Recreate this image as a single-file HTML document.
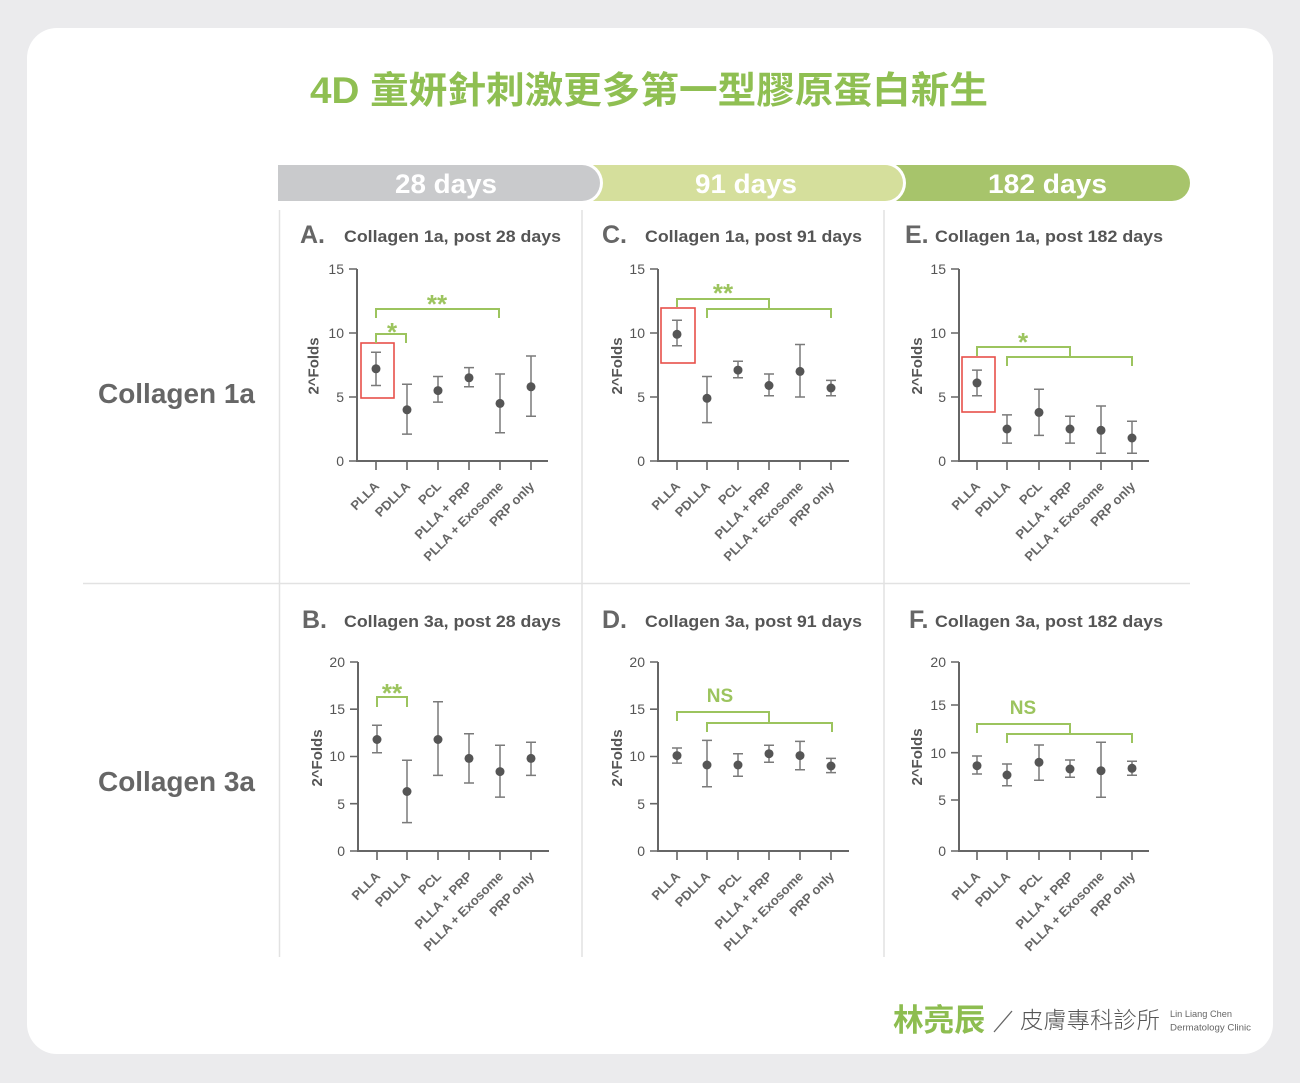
<!DOCTYPE html>
<html>
<head>
<meta charset="utf-8">
<style>
  html,body{margin:0;padding:0;background:#ebebed;}
  svg{display:block;}
  .lat{font-family:"Liberation Sans","Noto Sans CJK TC",sans-serif;}
  .axis{stroke:#666;stroke-width:2;fill:none;}
  .tick{stroke:#666;stroke-width:1.6;fill:none;}
  .tl{font-family:"Liberation Sans",sans-serif;font-size:14px;fill:#555;text-anchor:end;}
  .xl{font-family:"Liberation Sans",sans-serif;font-size:13px;font-weight:bold;fill:#666;text-anchor:end;}
  .yl{font-family:"Liberation Sans",sans-serif;font-size:15px;font-weight:bold;fill:#555;text-anchor:middle;}
  .err{stroke:#7a7a7a;stroke-width:1.5;fill:none;}
  .dot{fill:#555;}
  .red{stroke:#e8504a;stroke-width:1.6;fill:none;}
  .br{stroke:#9cc45e;stroke-width:2;fill:none;}
  .star{font-family:"Liberation Sans",sans-serif;font-size:26px;font-weight:bold;fill:#9cc45e;text-anchor:middle;}
  .ns{font-family:"Liberation Sans",sans-serif;font-size:19px;font-weight:bold;fill:#9cc45e;text-anchor:middle;}
  .let{font-family:"Liberation Sans",sans-serif;font-size:25px;font-weight:bold;fill:#666;}
  .ttl{font-family:"Liberation Sans",sans-serif;font-size:17px;font-weight:bold;fill:#555;}
  .div{stroke:#e2e2e2;stroke-width:1.5;}
</style>
</head>
<body>
<svg width="1300" height="1083" viewBox="0 0 1300 1083" xmlns="http://www.w3.org/2000/svg">
  <rect x="0" y="0" width="1300" height="1083" fill="#ebebed"/>
  <rect x="27" y="28" width="1246" height="1026" rx="30" ry="30" fill="#ffffff"/>

  <!-- Title -->
  <text x="310" y="103" textLength="678" lengthAdjust="spacingAndGlyphs" style="font-family:'Liberation Sans','Noto Sans CJK TC',sans-serif;font-size:37px;font-weight:bold;fill:#8fbf52;">4D 童妍針刺激更多第一型膠原蛋白新生</text>

  <!-- Header bars -->
  <path d="M890,165 H1172 A18,18 0 0 1 1172,201 H890 Z" fill="#a7c46b"/>
  <path d="M590,162 H885 A21,21 0 0 1 885,204 H590 Z" fill="#ffffff"/>
  <path d="M590,165 H885 A18,18 0 0 1 885,201 H590 Z" fill="#d5df9c"/>
  <path d="M278,162 H582 A21,21 0 0 1 582,204 H278 Z" fill="#ffffff"/>
  <path d="M278,165 H582 A18,18 0 0 1 582,201 H278 Z" fill="#c9cacc"/>
  <text x="395" y="193" textLength="102" lengthAdjust="spacingAndGlyphs" style="font-family:'Liberation Sans',sans-serif;font-size:27px;font-weight:bold;fill:#fff;">28 days</text>
  <text x="695" y="193" textLength="102" lengthAdjust="spacingAndGlyphs" style="font-family:'Liberation Sans',sans-serif;font-size:27px;font-weight:bold;fill:#fff;">91 days</text>
  <text x="988" y="193" textLength="119" lengthAdjust="spacingAndGlyphs" style="font-family:'Liberation Sans',sans-serif;font-size:27px;font-weight:bold;fill:#fff;">182 days</text>

  <!-- Dividers -->
  <line class="div" x1="279.5" y1="210" x2="279.5" y2="957"/>
  <line class="div" x1="582" y1="210" x2="582" y2="957"/>
  <line class="div" x1="884" y1="210" x2="884" y2="957"/>
  <line class="div" x1="83" y1="583.5" x2="1190" y2="583.5"/>

  <!-- Row labels -->
  <text x="98" y="403" textLength="157" lengthAdjust="spacingAndGlyphs" style="font-family:'Liberation Sans',sans-serif;font-size:28px;font-weight:bold;fill:#666;">Collagen 1a</text>
  <text x="98" y="791" textLength="157" lengthAdjust="spacingAndGlyphs" style="font-family:'Liberation Sans',sans-serif;font-size:28px;font-weight:bold;fill:#666;">Collagen 3a</text>

  <!-- Panel titles -->
  <text class="let" x="300" y="243">A.</text>
  <text class="ttl" x="344" y="242" textLength="217" lengthAdjust="spacingAndGlyphs">Collagen 1a, post 28 days</text>
  <text class="let" x="602" y="243">C.</text>
  <text class="ttl" x="645" y="242" textLength="217" lengthAdjust="spacingAndGlyphs">Collagen 1a, post 91 days</text>
  <text class="let" x="905" y="243">E.</text>
  <text class="ttl" x="935" y="242" textLength="228" lengthAdjust="spacingAndGlyphs">Collagen 1a, post 182 days</text>
  <text class="let" x="302" y="628">B.</text>
  <text class="ttl" x="344" y="627" textLength="217" lengthAdjust="spacingAndGlyphs">Collagen 3a, post 28 days</text>
  <text class="let" x="602" y="628">D.</text>
  <text class="ttl" x="645" y="627" textLength="217" lengthAdjust="spacingAndGlyphs">Collagen 3a, post 91 days</text>
  <text class="let" x="909" y="628">F.</text>
  <text class="ttl" x="935" y="627" textLength="228" lengthAdjust="spacingAndGlyphs">Collagen 3a, post 182 days</text>

  <!-- ================= Panel A ================= -->
  <g>
    <path class="axis" d="M357,269 V462 M356,461 H548"/>
    <path class="tick" d="M349,269 H357 M349,397 H357 M349,333 H357 M349,461 H357"/>
    <path class="tick" d="M376,461 V470 M407,461 V470 M438,461 V470 M469,461 V470 M500,461 V470 M531,461 V470"/>
    <text class="tl" x="344" y="274">15</text>
    <text class="tl" x="344" y="338">10</text>
    <text class="tl" x="344" y="402">5</text>
    <text class="tl" x="344" y="466">0</text>
    <text class="yl" transform="translate(318.5,366) rotate(-90)">2^Folds</text>
    <text class="xl" transform="translate(380,487) rotate(-45)">PLLA</text>
    <text class="xl" transform="translate(411,487) rotate(-45)">PDLLA</text>
    <text class="xl" transform="translate(442,487) rotate(-45)">PCL</text>
    <text class="xl" transform="translate(473,487) rotate(-45)">PLLA + PRP</text>
    <text class="xl" transform="translate(504,487) rotate(-45)">PLLA + Exosome</text>
    <text class="xl" transform="translate(535,487) rotate(-45)">PRP only</text>
    <path class="err" d="M376,352.2 V385.5 M371,352.2 H381 M371,385.5 H381"/>
    <path class="err" d="M407,384.2 V434.1 M402,384.2 H412 M402,434.1 H412"/>
    <path class="err" d="M438,376.5 V402.1 M433,376.5 H443 M433,402.1 H443"/>
    <path class="err" d="M469,367.6 V386.8 M464,367.6 H474 M464,386.8 H474"/>
    <path class="err" d="M500,374 V432.8 M495,374 H505 M495,432.8 H505"/>
    <path class="err" d="M531,356 V416.2 M526,356 H536 M526,416.2 H536"/>
    <circle class="dot" cx="376" cy="368.8" r="4.5"/>
    <circle class="dot" cx="407" cy="409.8" r="4.5"/>
    <circle class="dot" cx="438" cy="390.6" r="4.5"/>
    <circle class="dot" cx="469" cy="377.8" r="4.5"/>
    <circle class="dot" cx="500" cy="403.4" r="4.5"/>
    <circle class="dot" cx="531" cy="386.8" r="4.5"/>
    <rect class="red" x="361" y="343" width="33" height="55"/>
    <path class="br" d="M376,343 V334 H406 V343"/>
    <path class="br" d="M376,318 V309 H499 V318"/>
    <text class="star" x="392" y="341">*</text>
    <text class="star" x="437" y="313">**</text>
  </g>

  <!-- ================= Panel C ================= -->
  <g>
    <path class="axis" d="M658,269 V462 M657,461 H849"/>
    <path class="tick" d="M650,269 H658 M650,397 H658 M650,333 H658 M650,461 H658"/>
    <path class="tick" d="M677,461 V470 M707,461 V470 M738,461 V470 M769,461 V470 M800,461 V470 M831,461 V470"/>
    <text class="tl" x="645" y="274">15</text>
    <text class="tl" x="645" y="338">10</text>
    <text class="tl" x="645" y="402">5</text>
    <text class="tl" x="645" y="466">0</text>
    <text class="yl" transform="translate(622,366) rotate(-90)">2^Folds</text>
    <text class="xl" transform="translate(681,487) rotate(-45)">PLLA</text>
    <text class="xl" transform="translate(711,487) rotate(-45)">PDLLA</text>
    <text class="xl" transform="translate(742,487) rotate(-45)">PCL</text>
    <text class="xl" transform="translate(773,487) rotate(-45)">PLLA + PRP</text>
    <text class="xl" transform="translate(804,487) rotate(-45)">PLLA + Exosome</text>
    <text class="xl" transform="translate(835,487) rotate(-45)">PRP only</text>
    <path class="err" d="M677,320.2 V345.8 M672,320.2 H682 M672,345.8 H682"/>
    <path class="err" d="M707,376.5 V422.6 M702,376.5 H712 M702,422.6 H712"/>
    <path class="err" d="M738,361.2 V377.8 M733,361.2 H743 M733,377.8 H743"/>
    <path class="err" d="M769,374 V395.7 M764,374 H774 M764,395.7 H774"/>
    <path class="err" d="M800,344.5 V397 M795,344.5 H805 M795,397 H805"/>
    <path class="err" d="M831,380.4 V395.7 M826,380.4 H836 M826,395.7 H836"/>
    <circle class="dot" cx="677" cy="334.3" r="4.5"/>
    <circle class="dot" cx="707" cy="398.3" r="4.5"/>
    <circle class="dot" cx="738" cy="370.1" r="4.5"/>
    <circle class="dot" cx="769" cy="385.5" r="4.5"/>
    <circle class="dot" cx="800" cy="371.4" r="4.5"/>
    <circle class="dot" cx="831" cy="388" r="4.5"/>
    <rect class="red" x="661" y="308" width="34" height="55"/>
    <path class="br" d="M677,307 V299 H769 V309"/>
    <path class="br" d="M707,318 V309 H831 V318"/>
    <text class="star" x="723" y="302">**</text>
  </g>

  <!-- ================= Panel E ================= -->
  <g>
    <path class="axis" d="M959,269 V462 M958,461 H1149"/>
    <path class="tick" d="M951,269 H959 M951,397 H959 M951,333 H959 M951,461 H959"/>
    <path class="tick" d="M977,461 V470 M1007,461 V470 M1039,461 V470 M1070,461 V470 M1101,461 V470 M1132,461 V470"/>
    <text class="tl" x="946" y="274">15</text>
    <text class="tl" x="946" y="338">10</text>
    <text class="tl" x="946" y="402">5</text>
    <text class="tl" x="946" y="466">0</text>
    <text class="yl" transform="translate(922,366) rotate(-90)">2^Folds</text>
    <text class="xl" transform="translate(981,487) rotate(-45)">PLLA</text>
    <text class="xl" transform="translate(1011,487) rotate(-45)">PDLLA</text>
    <text class="xl" transform="translate(1043,487) rotate(-45)">PCL</text>
    <text class="xl" transform="translate(1074,487) rotate(-45)">PLLA + PRP</text>
    <text class="xl" transform="translate(1105,487) rotate(-45)">PLLA + Exosome</text>
    <text class="xl" transform="translate(1136,487) rotate(-45)">PRP only</text>
    <path class="err" d="M977,370.1 V395.7 M972,370.1 H982 M972,395.7 H982"/>
    <path class="err" d="M1007,414.9 V443.1 M1002,414.9 H1012 M1002,443.1 H1012"/>
    <path class="err" d="M1039,389.3 V435.4 M1034,389.3 H1044 M1034,435.4 H1044"/>
    <path class="err" d="M1070,416.2 V443.1 M1065,416.2 H1075 M1065,443.1 H1075"/>
    <path class="err" d="M1101,406 V453.3 M1096,406 H1106 M1096,453.3 H1106"/>
    <path class="err" d="M1132,421.3 V453.3 M1127,421.3 H1137 M1127,453.3 H1137"/>
    <circle class="dot" cx="977" cy="382.9" r="4.5"/>
    <circle class="dot" cx="1007" cy="429" r="4.5"/>
    <circle class="dot" cx="1039" cy="412.4" r="4.5"/>
    <circle class="dot" cx="1070" cy="429" r="4.5"/>
    <circle class="dot" cx="1101" cy="430.3" r="4.5"/>
    <circle class="dot" cx="1132" cy="438" r="4.5"/>
    <rect class="red" x="962" y="357" width="33" height="55"/>
    <path class="br" d="M977,356 V347 H1070 V357"/>
    <path class="br" d="M1007,366 V357 H1132 V366"/>
    <text class="star" x="1023" y="351">*</text>
  </g>

  <!-- ================= Panel B ================= -->
  <g>
    <path class="axis" d="M358,662 V852 M357,851 H549"/>
    <path class="tick" d="M350,662 H358 M350,709.2 H358 M350,756.5 H358 M350,803.7 H358 M350,851 H358"/>
    <path class="tick" d="M377,851 V860 M407,851 V860 M438,851 V860 M469,851 V860 M500,851 V860 M531,851 V860"/>
    <text class="tl" x="345" y="667">20</text>
    <text class="tl" x="345" y="714">15</text>
    <text class="tl" x="345" y="761">10</text>
    <text class="tl" x="345" y="809">5</text>
    <text class="tl" x="345" y="856">0</text>
    <text class="yl" transform="translate(322,758) rotate(-90)">2^Folds</text>
    <text class="xl" transform="translate(381,877) rotate(-45)">PLLA</text>
    <text class="xl" transform="translate(411,877) rotate(-45)">PDLLA</text>
    <text class="xl" transform="translate(442,877) rotate(-45)">PCL</text>
    <text class="xl" transform="translate(473,877) rotate(-45)">PLLA + PRP</text>
    <text class="xl" transform="translate(504,877) rotate(-45)">PLLA + Exosome</text>
    <text class="xl" transform="translate(535,877) rotate(-45)">PRP only</text>
    <path class="err" d="M377,725.3 V752.7 M372,725.3 H382 M372,752.7 H382"/>
    <path class="err" d="M407,760.3 V822.6 M402,760.3 H412 M402,822.6 H412"/>
    <path class="err" d="M438,701.7 V775.4 M433,701.7 H443 M433,775.4 H443"/>
    <path class="err" d="M469,733.8 V783 M464,733.8 H474 M464,783 H474"/>
    <path class="err" d="M500,745.2 V797.1 M495,745.2 H505 M495,797.1 H505"/>
    <path class="err" d="M531,742.3 V775.4 M526,742.3 H536 M526,775.4 H536"/>
    <circle class="dot" cx="377" cy="739.5" r="4.5"/>
    <circle class="dot" cx="407" cy="791.5" r="4.5"/>
    <circle class="dot" cx="438" cy="739.5" r="4.5"/>
    <circle class="dot" cx="469" cy="758.4" r="4.5"/>
    <circle class="dot" cx="500" cy="771.6" r="4.5"/>
    <circle class="dot" cx="531" cy="758.4" r="4.5"/>
    <path class="br" d="M377,707 V697 H407 V707"/>
    <text class="star" x="392" y="702">**</text>
  </g>

  <!-- ================= Panel D ================= -->
  <g>
    <path class="axis" d="M658,662 V852 M657,851 H849"/>
    <path class="tick" d="M650,662 H658 M650,709.2 H658 M650,756.5 H658 M650,803.7 H658 M650,851 H658"/>
    <path class="tick" d="M677,851 V860 M707,851 V860 M738,851 V860 M769,851 V860 M800,851 V860 M831,851 V860"/>
    <text class="tl" x="645" y="667">20</text>
    <text class="tl" x="645" y="714">15</text>
    <text class="tl" x="645" y="761">10</text>
    <text class="tl" x="645" y="809">5</text>
    <text class="tl" x="645" y="856">0</text>
    <text class="yl" transform="translate(622,758) rotate(-90)">2^Folds</text>
    <text class="xl" transform="translate(681,877) rotate(-45)">PLLA</text>
    <text class="xl" transform="translate(711,877) rotate(-45)">PDLLA</text>
    <text class="xl" transform="translate(742,877) rotate(-45)">PCL</text>
    <text class="xl" transform="translate(773,877) rotate(-45)">PLLA + PRP</text>
    <text class="xl" transform="translate(804,877) rotate(-45)">PLLA + Exosome</text>
    <text class="xl" transform="translate(835,877) rotate(-45)">PRP only</text>
    <path class="err" d="M677,748 V763.1 M672,748 H682 M672,763.1 H682"/>
    <path class="err" d="M707,740.4 V786.7 M702,740.4 H712 M702,786.7 H712"/>
    <path class="err" d="M738,753.7 V776.3 M733,753.7 H743 M733,776.3 H743"/>
    <path class="err" d="M769,745.2 V762.2 M764,745.2 H774 M764,762.2 H774"/>
    <path class="err" d="M800,741.4 V769.7 M795,741.4 H805 M795,769.7 H805"/>
    <path class="err" d="M831,758.4 V772.6 M826,758.4 H836 M826,772.6 H836"/>
    <circle class="dot" cx="677" cy="755.6" r="4.5"/>
    <circle class="dot" cx="707" cy="765" r="4.5"/>
    <circle class="dot" cx="738" cy="765" r="4.5"/>
    <circle class="dot" cx="769" cy="753.7" r="4.5"/>
    <circle class="dot" cx="800" cy="755.6" r="4.5"/>
    <circle class="dot" cx="831" cy="766" r="4.5"/>
    <path class="br" d="M677,721 V712 H769 V723"/>
    <path class="br" d="M707,732 V723 H832 V732"/>
    <text class="ns" x="720" y="702">NS</text>
  </g>

  <!-- ================= Panel F ================= -->
  <g>
    <path class="axis" d="M959,662 V852 M958,851 H1149"/>
    <path class="tick" d="M951,662 H959 M951,705 H959 M951,752.7 H959 M951,800 H959 M951,851 H959"/>
    <path class="tick" d="M977,851 V860 M1007,851 V860 M1039,851 V860 M1070,851 V860 M1101,851 V860 M1132,851 V860"/>
    <text class="tl" x="946" y="667">20</text>
    <text class="tl" x="946" y="710">15</text>
    <text class="tl" x="946" y="758">10</text>
    <text class="tl" x="946" y="805">5</text>
    <text class="tl" x="946" y="856">0</text>
    <text class="yl" transform="translate(922,757) rotate(-90)">2^Folds</text>
    <text class="xl" transform="translate(981,877) rotate(-45)">PLLA</text>
    <text class="xl" transform="translate(1011,877) rotate(-45)">PDLLA</text>
    <text class="xl" transform="translate(1043,877) rotate(-45)">PCL</text>
    <text class="xl" transform="translate(1074,877) rotate(-45)">PLLA + PRP</text>
    <text class="xl" transform="translate(1105,877) rotate(-45)">PLLA + Exosome</text>
    <text class="xl" transform="translate(1136,877) rotate(-45)">PRP only</text>
    <path class="err" d="M977,756 V774 M972,756 H982 M972,774 H982"/>
    <path class="err" d="M1007,764 V785.7 M1002,764 H1012 M1002,785.7 H1012"/>
    <path class="err" d="M1039,745 V780.3 M1034,745 H1044 M1034,780.3 H1044"/>
    <path class="err" d="M1070,760 V777.3 M1065,760 H1075 M1065,777.3 H1075"/>
    <path class="err" d="M1101,742.3 V797.3 M1096,742.3 H1106 M1096,797.3 H1106"/>
    <path class="err" d="M1132,761.3 V775.3 M1127,761.3 H1137 M1127,775.3 H1137"/>
    <circle class="dot" cx="977" cy="765.7" r="4.5"/>
    <circle class="dot" cx="1007" cy="775" r="4.5"/>
    <circle class="dot" cx="1039" cy="762.3" r="4.5"/>
    <circle class="dot" cx="1070" cy="769" r="4.5"/>
    <circle class="dot" cx="1101" cy="770.7" r="4.5"/>
    <circle class="dot" cx="1132" cy="768.3" r="4.5"/>
    <path class="br" d="M977,733 V724 H1070 V734"/>
    <path class="br" d="M1007,743 V734 H1132 V743"/>
    <text class="ns" x="1023" y="714">NS</text>
  </g>

  <!-- Footer logo -->
  <text x="893" y="1031" textLength="92" lengthAdjust="spacingAndGlyphs" style="font-family:'Liberation Sans','Noto Sans CJK TC',sans-serif;font-size:31px;font-weight:bold;fill:#8dbd50;">林亮辰</text>
  <line x1="994" y1="1032" x2="1012" y2="1011" stroke="#666" stroke-width="1.3"/>
  <text x="1020" y="1028" textLength="140" lengthAdjust="spacingAndGlyphs" style="font-family:'Liberation Sans','Noto Sans CJK TC',sans-serif;font-size:23px;font-weight:300;fill:#555;">皮膚專科診所</text>
  <text x="1170" y="1017" textLength="62" lengthAdjust="spacingAndGlyphs" style="font-family:'Liberation Sans',sans-serif;font-size:9.5px;fill:#666;">Lin Liang Chen</text>
  <text x="1170" y="1030.5" textLength="81" lengthAdjust="spacingAndGlyphs" style="font-family:'Liberation Sans',sans-serif;font-size:9.5px;fill:#666;">Dermatology Clinic</text>
</svg>
</body>
</html>
